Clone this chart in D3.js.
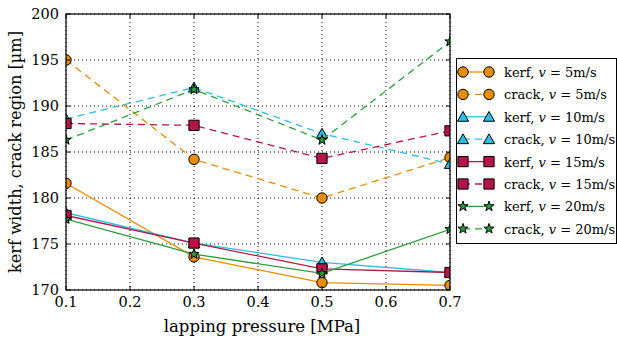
<!DOCTYPE html>
<html><head><meta charset="utf-8">
<script src="https://cdn.jsdelivr.net/npm/d3@7"></script>
<style>
body{margin:0;background:#fff;}
svg text{font-family:"DejaVu Serif";}
</style></head>
<body><svg id="c" width="617" height="341"></svg>
<script>
const pressures = [0.1, 0.3, 0.5, 0.7];
const xTicks = [0.1, 0.2, 0.3, 0.4, 0.5, 0.6, 0.7];
const yTicks = [170, 175, 180, 185, 190, 195, 200];
const speeds = [5, 10, 15, 20];
const kerf5 = [181.6, 173.6, 170.8, 170.5];
const crack5 = [195.0, 184.2, 180.0, 184.4];
const kerf10 = [178.4, 175.1, 173.0, 171.9];
const crack10 = [188.6, 192.0, 187.0, 183.7];
const kerf15 = [178.1, 175.1, 172.3, 171.9];
const crack15 = [188.1, 187.9, 184.3, 187.3];
const kerf20 = [177.7, 173.9, 171.8, 176.6];
const crack20 = [186.3, 191.8, 186.3, 197.0];
const colors = ["#e88c00", "#2cbde6", "#b5164a", "#2a9e3a"];
const markerTypes = ["circle", "triangle", "square", "star"];

const series = [
  {kind:"kerf", v:5, vals:kerf5, c:0},
  {kind:"crack", v:5, vals:crack5, c:0},
  {kind:"kerf", v:10, vals:kerf10, c:1},
  {kind:"crack", v:10, vals:crack10, c:1},
  {kind:"kerf", v:15, vals:kerf15, c:2},
  {kind:"crack", v:15, vals:crack15, c:2},
  {kind:"kerf", v:20, vals:kerf20, c:3},
  {kind:"crack", v:20, vals:crack20, c:3}
];

const svg = d3.select("#c");
const L = 66, R = 450, T = 14, B = 290;
const x = d3.scaleLinear().domain([0.1, 0.7]).range([L, R]);
const y = d3.scaleLinear().domain([170, 200]).range([B, T]);

svg.append("defs").append("clipPath").attr("id","clip")
  .append("rect").attr("x",L).attr("y",T).attr("width",R-L).attr("height",B-T);

const grid = svg.append("g");
xTicks.forEach(t=>{
  grid.append("line").attr("x1",x(t)).attr("x2",x(t)).attr("y1",T).attr("y2",B)
    .attr("stroke","#000").attr("stroke-width",1).attr("stroke-dasharray","1,3");
});
yTicks.forEach(t=>{
  grid.append("line").attr("x1",L).attr("x2",R).attr("y1",y(t)).attr("y2",y(t))
    .attr("stroke","#000").attr("stroke-width",1).attr("stroke-dasharray","1,3");
});

function symbolFor(type){
  const map = {circle:d3.symbolCircle, triangle:d3.symbolTriangle, square:d3.symbolSquare, star:d3.symbolStar};
  const sizes = {circle:85, triangle:55, square:105, star:32};
  return d3.symbol().type(map[type]).size(sizes[type])();
}

const plot = svg.append("g").attr("clip-path","url(#clip)");
const line = d3.line().x((d,i)=>x(pressures[i])).y(d=>y(d));
series.forEach(s=>{
  const g = plot.append("g");
  g.append("path").attr("d", line(s.vals)).attr("fill","none")
    .attr("stroke", colors[s.c]).attr("stroke-width",1.3)
    .attr("stroke-dasharray", s.kind==="crack" ? "7,5" : null);
  s.vals.forEach((v,i)=>{
    g.append("path").attr("d", symbolFor(markerTypes[s.c]))
      .attr("transform",`translate(${x(pressures[i])},${y(v) + (markerTypes[s.c]==="triangle"?1.2:0)})`)
      .attr("fill", colors[s.c]).attr("stroke","#000").attr("stroke-width",1);
  });
});

svg.append("rect").attr("x",L).attr("y",T).attr("width",R-L).attr("height",B-T)
  .attr("fill","none").attr("stroke","#000").attr("stroke-width",1.2);

const tk = svg.append("g").attr("stroke","#000").attr("stroke-width",1);
xTicks.forEach(t=>{
  tk.append("line").attr("x1",x(t)).attr("x2",x(t)).attr("y1",B).attr("y2",B-4);
  tk.append("line").attr("x1",x(t)).attr("x2",x(t)).attr("y1",T).attr("y2",T+4);
});
yTicks.forEach(t=>{
  tk.append("line").attr("x1",L).attr("x2",L+4).attr("y1",y(t)).attr("y2",y(t));
  tk.append("line").attr("x1",R).attr("x2",R-4).attr("y1",y(t)).attr("y2",y(t));
});

xTicks.forEach(t=>{
  svg.append("text").attr("x",x(t)).attr("y",B+17).attr("text-anchor","middle")
    .attr("font-size",14.5).text(t.toFixed(1));
});
yTicks.forEach(t=>{
  svg.append("text").attr("x",L-7).attr("y",y(t)+5).attr("text-anchor","end")
    .attr("font-size",14.5).text(t);
});

svg.append("text").attr("x",(L+R)/2 + 4).attr("y",332).attr("text-anchor","middle")
  .attr("font-size",16.5).text("lapping pressure [MPa]");
svg.append("text").attr("transform",`translate(21,${(T+B)/2}) rotate(-90)`)
  .attr("text-anchor","middle").attr("font-size",16.2).text("kerf width, crack region [µm]");

const lg = svg.append("g");
lg.append("rect").attr("x",456.5).attr("y",58.5).attr("width",160).attr("height",185)
  .attr("fill","#fff").attr("stroke","#000").attr("stroke-width",1);
series.forEach((s,i)=>{
  const yy = 72 + i*22.4;
  lg.append("line").attr("x1",463).attr("x2",489).attr("y1",yy).attr("y2",yy)
    .attr("stroke",colors[s.c]).attr("stroke-width",1.3)
    .attr("stroke-dasharray", s.kind==="crack" ? "7,5" : null);
  [463,489].forEach(px=>{
    lg.append("path").attr("d", symbolFor(markerTypes[s.c]))
      .attr("transform",`translate(${px},${yy + (markerTypes[s.c]==="triangle"?1.2:0)})`)
      .attr("fill",colors[s.c]).attr("stroke","#000").attr("stroke-width",1);
  });
  const t = lg.append("text").attr("x",504).attr("y",yy+5).attr("font-size",13);
  t.append("tspan").text(s.kind + ", ");
  t.append("tspan").attr("font-style","italic").text("v");
  t.append("tspan").text(" = " + s.v + "m/s");
});
</script></body></html>
